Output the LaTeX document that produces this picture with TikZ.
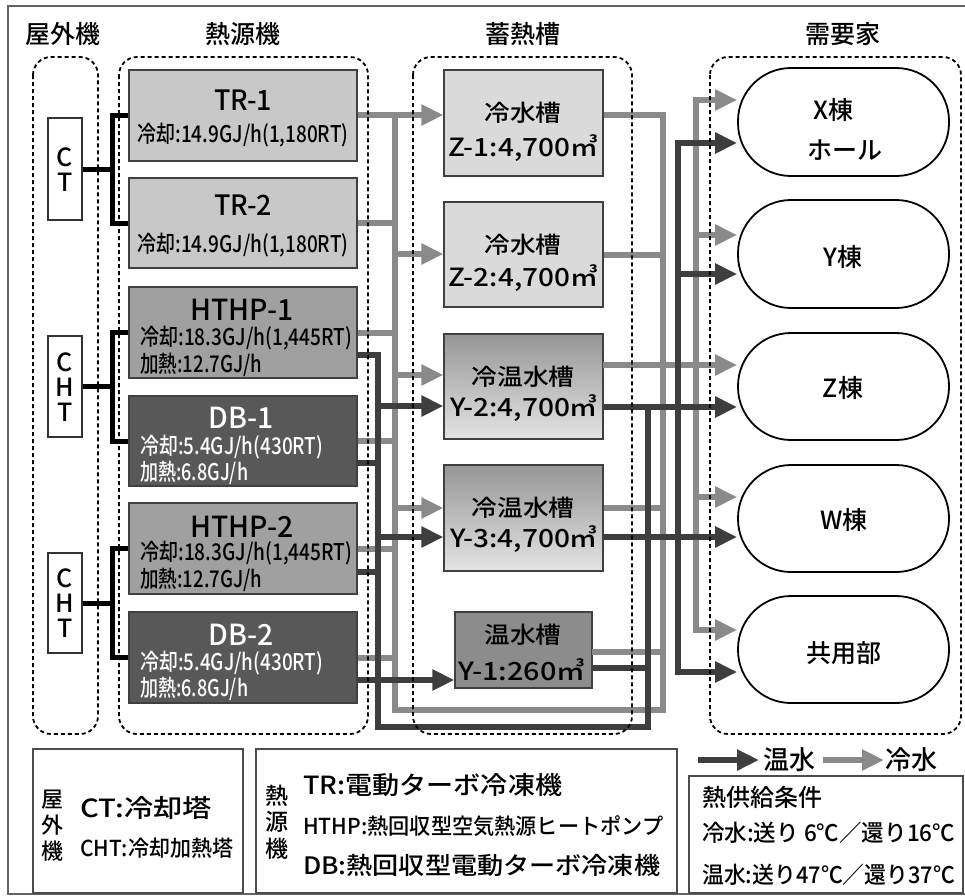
\documentclass[tikz,border=0pt]{standalone}
\usepackage{fontspec}
\usepackage{graphicx}
\setmainfont{Noto Sans CJK JP Medium}
\usetikzlibrary{arrows.meta}
\definecolor{coldc}{RGB}{138,138,138}
\definecolor{hotc}{RGB}{62,62,62}
\definecolor{trc}{RGB}{200,200,200}
\definecolor{hpc}{RGB}{160,160,160}
\definecolor{dbc}{RGB}{88,88,88}
\definecolor{zc}{RGB}{218,218,218}
\definecolor{ytop}{RGB}{150,150,150}
\definecolor{ybot}{RGB}{228,228,228}
\definecolor{yonec}{RGB}{140,140,140}
\definecolor{framec}{RGB}{100,100,100}
\newcommand{\myfs}[1]{\fontsize{#1}{#1}\selectfont}
\newcommand{\fitw}[2]{\resizebox{#1pt}{\height}{#2}}
\begin{document}
\begin{tikzpicture}[x=1pt,y=-1pt,
  txt/.style={inner sep=0pt},
  box/.style={draw=black!75,line width=1.2pt,inner sep=0pt},
  wbox/.style={draw=black!80,line width=1.2pt,fill=white,inner sep=0pt},
  ltr/.style={inner sep=0pt,font=\myfs{25}},
  cons/.style={draw=black,line width=1.8pt,rounded corners=53pt,minimum width=211pt,minimum height=107pt,inner sep=0pt},
  grp/.style={draw=black,line width=1.8pt,dash pattern=on 4pt off 3pt,rounded corners=18pt},
  lgbox/.style={draw=black!70,line width=1.4pt},
  link/.style={draw=black,line width=5pt},
  coldp/.style={draw=coldc,line width=6pt},
  hotp/.style={draw=hotc,line width=6pt},
  coldarr/.style={coldp,-{Triangle[length=22pt,width=20pt]}},
  hotarr/.style={hotp,-{Triangle[length=22pt,width=20pt]}},
]
\useasboundingbox (0,0) rectangle (965,895);
\draw[framec,line width=1.5pt] (970,6) -- (8,6) -- (8,894) -- (970,894);

% headings
\node[txt] (h1) at (63,34) {\myfs{25}屋外機};
\node[txt] (h2) at (243,34) {\myfs{25}熱源機};
\node[txt] (h3) at (523,34) {\myfs{25}蓄熱槽};
\node[txt] (h4) at (843,34) {\myfs{25}需要家};

% outdoor units
\node[wbox,minimum width=34pt,minimum height=102pt] (ct) at (65,169) {};
\node[wbox,minimum width=34pt,minimum height=101pt] (cht1) at (65,386.5) {};
\node[wbox,minimum width=34pt,minimum height=100pt] (cht2) at (65,603) {};
\node[ltr] (ctc) at (65,157) {C};
\node[ltr] (ctt) at (65,182) {T};
\node[ltr] (ch1c) at (65,362) {C};
\node[ltr] (ch1h) at (65,387) {H};
\node[ltr] (ch1t) at (65,412) {T};
\node[ltr] (ch2c) at (65,578) {C};
\node[ltr] (ch2h) at (65,603) {H};
\node[ltr] (ch2t) at (65,628) {T};

% heat sources
\node[box,fill=trc,minimum width=228pt,minimum height=91pt] (tr1) at (243,115.5) {};
\node[box,fill=trc,minimum width=228pt,minimum height=90pt] (tr2) at (243,223) {};
\node[box,fill=hpc,minimum width=228pt,minimum height=91pt] (hthp1) at (243,332.5) {};
\node[box,fill=dbc,minimum width=228pt,minimum height=90pt] (db1) at (243,441) {};
\node[box,fill=hpc,minimum width=228pt,minimum height=91pt] (hthp2) at (243,548.5) {};
\node[box,fill=dbc,minimum width=228pt,minimum height=91pt] (db2) at (243,657.5) {};

\node[txt] (tr1t) at (243,100) {\myfs{28}\fitw{58}{TR-1}};
\node[txt] (tr1s) at (243,135) {\myfs{23}\fitw{211}{冷却:14.9GJ/h(1,180RT)}};
\node[txt] (tr2t) at (243,205) {\myfs{28}\fitw{58}{TR-2}};
\node[txt] (tr2s) at (243,245) {\myfs{23}\fitw{211}{冷却:14.9GJ/h(1,180RT)}};

\node[txt] (hp1t) at (242,310) {\myfs{29}\fitw{103}{HTHP-1}};
\node[txt,anchor=west] (hp1a) at (140,338) {\myfs{23}\fitw{212}{冷却:18.3GJ/h(1,445RT)}};
\node[txt,anchor=west] (hp1b) at (140,365) {\myfs{23}\fitw{122}{加熱:12.7GJ/h}};
\node[txt,text=white] (db1t) at (241,418) {\myfs{29}\fitw{65}{DB-1}};
\node[txt,anchor=west,text=white] (db1a) at (140,447) {\myfs{23}\fitw{183}{冷却:5.4GJ/h(430RT)}};
\node[txt,anchor=west,text=white] (db1b) at (140,473) {\myfs{23}\fitw{108}{加熱:6.8GJ/h}};
\node[txt] (hp2t) at (242,527) {\myfs{29}\fitw{103}{HTHP-2}};
\node[txt,anchor=west] (hp2a) at (140,553) {\myfs{23}\fitw{212}{冷却:18.3GJ/h(1,445RT)}};
\node[txt,anchor=west] (hp2b) at (140,580) {\myfs{23}\fitw{122}{加熱:12.7GJ/h}};
\node[txt,text=white] (db2t) at (241,635) {\myfs{29}\fitw{65}{DB-2}};
\node[txt,anchor=west,text=white] (db2a) at (140,663) {\myfs{23}\fitw{183}{冷却:5.4GJ/h(430RT)}};
\node[txt,anchor=west,text=white] (db2b) at (140,689) {\myfs{23}\fitw{108}{加熱:6.8GJ/h}};

% tanks
\node[box,fill=zc,minimum width=159pt,minimum height=106pt] (z1) at (523.5,123) {};
\node[box,fill=zc,minimum width=159pt,minimum height=105pt] (z2) at (523.5,254.5) {};
\node[box,top color=ytop,bottom color=ybot,minimum width=159pt,minimum height=105pt] (y2) at (523.5,386.5) {};
\node[box,top color=ytop,bottom color=ybot,minimum width=159pt,minimum height=106pt] (y3) at (523.5,518) {};
\node[box,fill=yonec,minimum width=137pt,minimum height=76pt] (y1) at (523.5,650) {};

\node[txt] (z1a) at (523,113) {\myfs{23}\fitw{77}{冷水槽}};
\node[txt] (z1b) at (523,148) {\myfs{25}\fitw{150}{Z-1:4,700㎥}};
\node[txt] (z2a) at (523,245) {\myfs{23}\fitw{77}{冷水槽}};
\node[txt] (z2b) at (523,278) {\myfs{25}\fitw{150}{Z-2:4,700㎥}};
\node[txt] (y2a) at (523,377) {\myfs{23}\fitw{103}{冷温水槽}};
\node[txt] (y2b) at (524,408) {\myfs{25}\fitw{148}{Y-2:4,700㎥}};
\node[txt] (y3a) at (523,508) {\myfs{23}\fitw{103}{冷温水槽}};
\node[txt] (y3b) at (524,539) {\myfs{25}\fitw{148}{Y-3:4,700㎥}};
\node[txt] (y1a) at (523,635) {\myfs{23}\fitw{77}{温水槽}};
\node[txt] (y1b) at (522,670) {\myfs{25}\fitw{127}{Y-1:260㎥}};

% consumers
\node[cons,minimum height=108pt] (xb) at (843.5,122) {};
\node[cons,minimum height=108pt] (yb) at (843.5,254) {};
\node[cons] (zb) at (843.5,386.5) {};
\node[cons] (wb) at (843.5,518.5) {};
\node[cons] (kb) at (843.5,649.5) {};
\node[txt] (xt1) at (833.5,110) {\myfs{25}X棟};
\node[txt] (xt2) at (844.5,150) {\myfs{25}ホール};
\node[txt] (ytx) at (843,257) {\myfs{25}Y棟};
\node[txt] (ztx) at (843,388) {\myfs{25}Z棟};
\node[txt] (wtx) at (844,520) {\myfs{25}W棟};
\node[txt] (ktx) at (843.5,653) {\myfs{25}共用部};

% black links from towers
\draw[link] (ct.east) -- ++(30,0) |- (tr1.west);
\draw[link] (ct.east) -- ++(30,0) |- (tr2.west);
\draw[link] (cht1.east) -- ++(30,0) |- (hthp1.west);
\draw[link] (cht1.east) -- ++(30,0) |- (db1.west);
\draw[link] (cht2.east) -- ++(30,0) |- (hthp2.west);
\draw[link] (cht2.east) -- ++(30,0) |- (db2.west);

% coordinates
\coordinate (c1) at (395,115);
\coordinate (c2) at (395,710);
\coordinate (c3) at (663,710);
\coordinate (c4) at (663,115);
\coordinate (cz2) at (395,254);
\coordinate (cy2) at (395,375);
\coordinate (cy3) at (395,508);
\coordinate (y2co) at (603,365);
\coordinate (y1co) at (592,652);
\coordinate (cD) at (696,100);
\coordinate (cYb) at (696,235);
\coordinate (cWb) at (696,497);
\coordinate (cE) at (696,630);
\coordinate (k1) at (378,355);
\coordinate (k2) at (378,727);
\coordinate (k3) at (648,727);
\coordinate (k4) at (648,407);
\coordinate (ky2) at (378,406);
\coordinate (ky3) at (378,537);
\coordinate (db1h) at (357,463);
\coordinate (hp2h) at (357,572);
\coordinate (db2h) at (357,680);
\coordinate (y1ho) at (592,668);
\coordinate (hD) at (678,143);
\coordinate (hYb) at (678,274);
\coordinate (hE) at (678,672);

% cold water pipes
\draw[coldp] (z1.east |- c4) -- (c4) -- (c3) -- (c2) -- (c1);
\draw[coldarr] (tr1.east |- c1) -- (z1.west |- c1);
\draw[coldp] (tr2.east) -- (tr2.east -| c1);
\draw[coldp] (hthp1.east) -- (hthp1.east -| c1);
\draw[coldp] (db1.east) -- (db1.east -| c1);
\draw[coldp] (hthp2.east) -- (hthp2.east -| c1);
\draw[coldp] (db2.east) -- (db2.east -| c1);
\draw[coldarr] (cz2) -- (z2.west |- cz2);
\draw[coldarr] (cy2) -- (y2.west |- cy2);
\draw[coldarr] (cy3) -- (y3.west |- cy3);
\draw[coldp] (z2.east) -- (z2.east -| c3);
\draw[coldp] (y3.east |- cy3) -- (c3 |- cy3);
\draw[coldp] (y1co) -- (y1co -| c3);
\draw[coldarr] (y2co) -- (zb.west |- y2co);
\draw[coldarr] (cE) -- (cD) -- (xb.west |- cD);
\draw[coldarr] (cD) -- (cE) -- (kb.west |- cE);
\draw[coldarr] (cYb) -- (yb.west |- cYb);
\draw[coldarr] (cWb) -- (wb.west |- cWb);

% hot water pipes
\draw[hotp] (hthp1.east |- k1) -- (k1) -- (k2) -- (k3) -- (k4);
\draw[hotarr] (ky2) -- (y2.west |- ky2);
\draw[hotp] (db1h) -- (db1h -| k1);
\draw[hotarr] (ky3) -- (y3.west |- ky3);
\draw[hotp] (hp2h) -- (hp2h -| k1);
\draw[hotarr] (db2h) -- (y1.west |- db2h);
\draw[hotarr] (y2.east |- k4) -- (zb.west |- k4);
\draw[hotarr] (y3.east |- ky3) -- (wb.west |- ky3);
\draw[hotp] (y1ho) -- (y1ho -| k3);
\draw[hotarr] (hE) -- (hD) -- (xb.west |- hD);
\draw[hotarr] (hD) -- (hE) -- (kb.west |- hE);
\draw[hotarr] (hYb) -- (yb.west |- hYb);

% dashed groups
\draw[grp] (33,57) rectangle (98,734);
\draw[grp] (119,57) rectangle (368,734);
\draw[grp] (413,57) rectangle (632,734);
\draw[grp] (710,57) rectangle (961,734);

% legend
\draw[lgbox] (33,749) rectangle (243,893);
\draw[lgbox] (256,749) rectangle (677,893);
\draw[lgbox] (689,776) rectangle (963,893);

\node[txt] (lg1v1) at (52,800) {\myfs{22}屋};
\node[txt] (lg1v2) at (52,825.5) {\myfs{22}外};
\node[txt] (lg1v3) at (52,851) {\myfs{22}機};
\node[txt,anchor=west] (lg1a) at (80,808) {\myfs{25}\fitw{132}{CT:冷却塔}};
\node[txt,anchor=west] (lg1b) at (80,848) {\myfs{22}\fitw{153}{CHT:冷却加熱塔}};

\node[txt] (lg2v1) at (277,796) {\myfs{23}熱};
\node[txt] (lg2v2) at (277,822) {\myfs{23}源};
\node[txt] (lg2v3) at (277,849) {\myfs{23}機};
\node[txt,anchor=west] (lg2a) at (303,785) {\myfs{25}\fitw{259}{TR:電動ターボ冷凍機}};
\node[txt,anchor=west] (lg2b) at (303,826) {\myfs{22}\fitw{360}{HTHP:熱回収型空気熱源ヒートポンプ}};
\node[txt,anchor=west] (lg2c) at (303,865) {\myfs{24}\fitw{357}{DB:熱回収型電動ターボ冷凍機}};

\coordinate (lh1) at (698,760);
\coordinate (lh2) at (759,760);
\coordinate (lc1) at (823,760);
\coordinate (lc2) at (884,760);
\draw[hotarr] (lh1) -- (lh2);
\draw[coldarr] (lc1) -- (lc2);
\node[txt,anchor=west] (lgh) at (763,760) {\myfs{26}温水};
\node[txt,anchor=west] (lgc) at (885,760) {\myfs{26}冷水};

\node[txt,anchor=west] (lg3a) at (702,797) {\myfs{24}熱供給条件};
\node[txt,anchor=west] (lg3b) at (702,833) {\myfs{23}\fitw{253}{冷水:送り 6℃／還り16℃}};
\node[txt,anchor=west] (lg3c) at (702,875) {\myfs{23}\fitw{253}{温水:送り47℃／還り37℃}};
\end{tikzpicture}
\end{document}
